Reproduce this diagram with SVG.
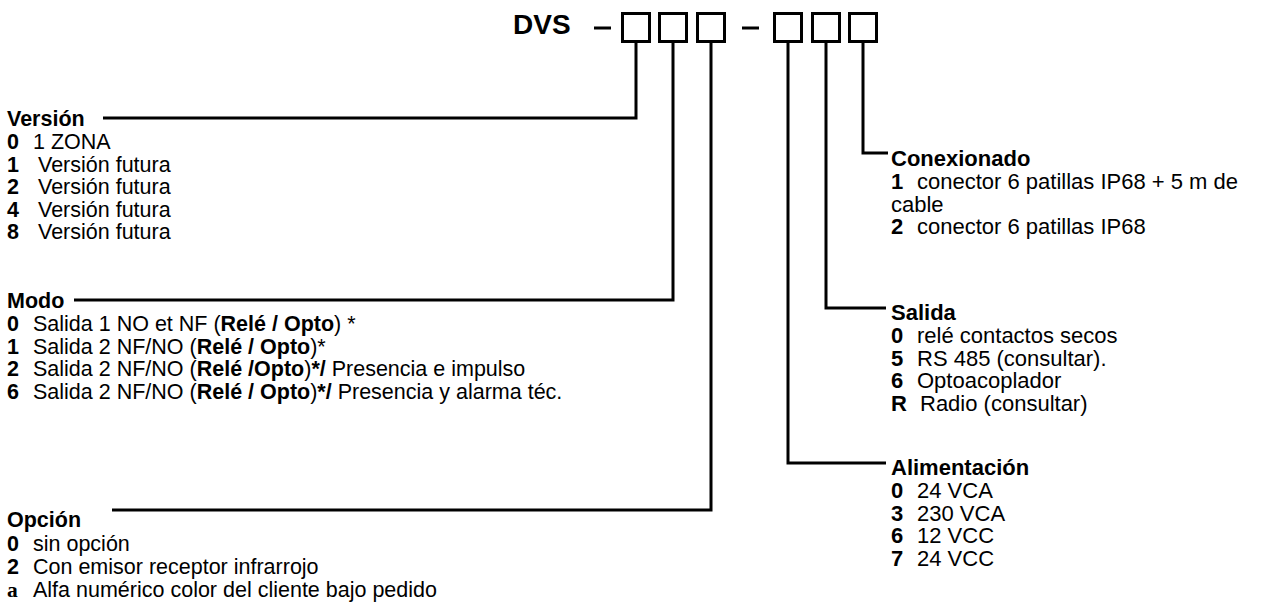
<svg xmlns="http://www.w3.org/2000/svg" width="1277" height="607" viewBox="0 0 1277 607">
<style>
.n{font-family:"Liberation Sans",Arial,sans-serif;font-size:21.5px;fill:#000;white-space:pre}
.r{font-family:"Liberation Sans",Arial,sans-serif;font-size:22px;fill:#000;white-space:pre}
.b{font-weight:bold}
.ser{font-family:"Liberation Serif","Times New Roman",serif;font-weight:bold}
.ln{fill:none;stroke:#000;stroke-width:3}
.box{fill:#fff;stroke:#000;stroke-width:3}
</style>
<rect width="1277" height="607" fill="#fff"/>
<text x="44" y="-5" class="r b" font-size="22">g</text>
<g id="code">
<text x="513" y="34" font-family="Liberation Sans,Arial,sans-serif" font-weight="bold" font-size="28">DVS</text>
<rect x="594" y="26.5" width="17" height="3" fill="#000"/>
<rect x="742" y="26.5" width="17" height="3" fill="#000"/>
<rect class="box" x="622.5" y="13.5" width="27" height="28"/>
<rect class="box" x="659.5" y="13.5" width="27" height="28"/>
<rect class="box" x="697.5" y="13.5" width="27" height="28"/>
<rect class="box" x="774.5" y="13.5" width="27" height="28"/>
<rect class="box" x="812.5" y="13.5" width="27" height="28"/>
<rect class="box" x="849.5" y="13.5" width="27" height="28"/>
</g>
<g id="connectors">
<polyline class="ln" points="636,43 636,118 103,118"/>
<polyline class="ln" points="673,43 673,300 74,300"/>
<polyline class="ln" points="711,43 711,510 112,510"/>
<polyline class="ln" points="788,43 788,463 886,463"/>
<polyline class="ln" points="826,43 826,308 886,308"/>
<polyline class="ln" points="863,43 863,153 888,153"/>
</g>
<g id="version" class="n">
<text x="7" y="126" class="b">Versión</text>
<text x="7" y="149"><tspan class="b">0</tspan><tspan x="33">1 ZONA</tspan></text>
<text x="7" y="171.5"><tspan class="b">1</tspan><tspan x="38">Versión futura</tspan></text>
<text x="7" y="194"><tspan class="b">2</tspan><tspan x="38">Versión futura</tspan></text>
<text x="7" y="216.5"><tspan class="b">4</tspan><tspan x="38">Versión futura</tspan></text>
<text x="7" y="239"><tspan class="b">8</tspan><tspan x="38">Versión futura</tspan></text>
</g>
<g id="modo" class="n">
<text x="7" y="308" class="b">Modo</text>
<text x="7" y="331"><tspan class="b">0</tspan><tspan x="33">Salida 1 NO et NF (</tspan><tspan class="b">Relé / Opto</tspan>) *</text>
<text x="7" y="353.5"><tspan class="b">1</tspan><tspan x="33">Salida 2 NF/NO (</tspan><tspan class="b">Relé / Opto</tspan>)*</text>
<text x="7" y="376"><tspan class="b">2</tspan><tspan x="33">Salida 2 NF/NO (</tspan><tspan class="b">Relé /Opto</tspan>)<tspan class="b">*/</tspan> Presencia e impulso</text>
<text x="7" y="398.5"><tspan class="b">6</tspan><tspan x="33">Salida 2 NF/NO (</tspan><tspan class="b">Relé / Opto</tspan>)<tspan class="b">*/</tspan> Presencia y alarma téc.</text>
</g>
<g id="opcion" class="n">
<text x="7" y="527" class="b">Opción</text>
<text x="7" y="551"><tspan class="b">0</tspan><tspan x="33">sin opción</tspan></text>
<text x="7" y="574"><tspan class="b">2</tspan><tspan x="33">Con emisor  receptor infrarrojo</tspan></text>
<text x="7" y="597"><tspan class="ser">a</tspan><tspan x="33">Alfa numérico color del cliente bajo pedido</tspan></text>
</g>
<g id="conexionado" class="r">
<text x="891" y="165.5" class="b">Conexionado</text>
<text x="891" y="189"><tspan class="b">1</tspan><tspan x="917">conector 6 patillas IP68 + 5 m de</tspan></text>
<text x="891" y="211.5">cable</text>
<text x="891" y="234"><tspan class="b">2</tspan><tspan x="917">conector 6 patillas IP68</tspan></text>
</g>
<g id="salida" class="r">
<text x="891" y="319.5" class="b">Salida</text>
<text x="891" y="343"><tspan class="b">0</tspan><tspan x="917">relé contactos secos</tspan></text>
<text x="891" y="365.5"><tspan class="b">5</tspan><tspan x="917">RS 485 (consultar).</tspan></text>
<text x="891" y="388"><tspan class="b">6</tspan><tspan x="917">Optoacoplador</tspan></text>
<text x="891" y="410.5"><tspan class="b">R</tspan><tspan x="920">Radio (consultar)</tspan></text>
</g>
<g id="alimentacion" class="r">
<text x="891" y="474.5" class="b">Alimentación</text>
<text x="891" y="498"><tspan class="b">0</tspan><tspan x="917">24 VCA</tspan></text>
<text x="891" y="520.5"><tspan class="b">3</tspan><tspan x="917">230 VCA</tspan></text>
<text x="891" y="543"><tspan class="b">6</tspan><tspan x="917">12 VCC</tspan></text>
<text x="891" y="565.5"><tspan class="b">7</tspan><tspan x="917">24 VCC</tspan></text>
</g>
</svg>
